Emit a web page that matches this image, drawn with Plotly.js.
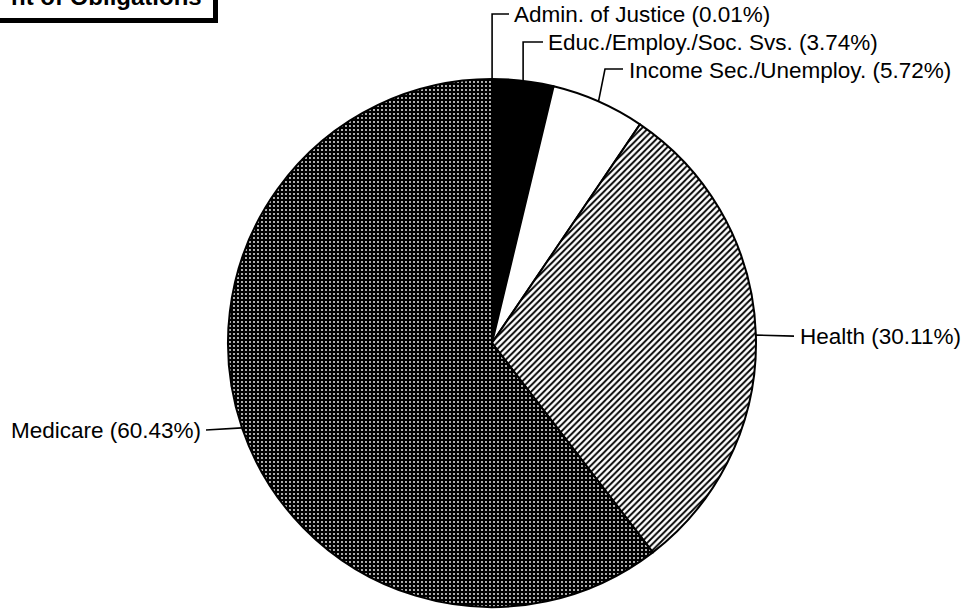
<!DOCTYPE html>
<html>
<head>
<meta charset="utf-8">
<script src="https://cdn.plot.ly/plotly-3.0.1.min.js"></script>
<style>html,body{margin:0;padding:0;background:#fff;}#chart{width:966px;height:611px;}</style>
</head>
<body>
<div id="chart"></div>
<script>
// ---- data ----
const categories = ['Admin. of Justice', 'Educ./Employ./Soc. Svs.', 'Income Sec./Unemploy.', 'Health', 'Medicare'];
const shares = [0.01, 3.74, 5.72, 30.11, 60.43];
const titleText = 'nt of Obligations';

// ---- styles ----
const W = 966, H = 611;
const FONT = 'Liberation Sans, Arial, sans-serif';
const sliceColors = ['#ffffff', '#000000', '#ffffff', '#ffffff', '#000000'];
const patShape = ['', '', '', '/', '.'];
const patFg = ['#000', '#000', '#000', '#000', '#fff'];
const patBg = ['#fff', '#000', '#fff', '#fff', '#000'];
const patSize = [8, 8, 8, 4.5, 4];
const patSolid = [0.3, 0.3, 0.3, 0.42, 0.16];

// pie placement (pixels)
const cx = 492, cy = 343, R = 264;

// label layout (pixels): style of leader and text anchor
const labelLayout = [
  {kind: 'elbow', ly: 14, tx: 512},
  {kind: 'elbow', ly: 42, tx: 546},
  {kind: 'slant', ly: 69, bx: 605, tx: 627},
  {kind: 'horiz', tx: 798},
  {kind: 'left', ly: 430, tx: 203}
];

const px = v => v / W;
const py = v => 1 - v / H;

// anchor points on the pie rim at each slice's mid angle (clockwise from 12 o'clock)
const total = shares.reduce((a, b) => a + b, 0);
let cum = 0;
const anchors = shares.map(s => {
  const mid = (cum + s / 2) / total;
  cum += s;
  const th = 2 * Math.PI * mid;
  return {x: cx + R * Math.sin(th), y: cy - R * Math.cos(th)};
});

const shapes = [];
const annotations = [];
const lineStyle = {color: '#000', width: 1.6};

anchors.forEach((p, i) => {
  const L = labelLayout[i];
  const text = categories[i] + ' (' + shares[i].toFixed(2) + '%)';
  let path, ty, xanchor = 'left';
  if (L.kind === 'elbow') {
    path = `M${px(p.x)},${py(p.y)} L${px(p.x)},${py(L.ly)} L${px(L.tx - 3)},${py(L.ly)}`;
    ty = L.ly + 1;
  } else if (L.kind === 'slant') {
    path = `M${px(p.x)},${py(p.y)} L${px(L.bx)},${py(L.ly)} L${px(L.tx - 4)},${py(L.ly)}`;
    ty = L.ly + 1;
  } else if (L.kind === 'horiz') {
    path = `M${px(p.x)},${py(p.y)} L${px(L.tx - 4)},${py(p.y + 1)}`;
    ty = p.y + 1;
  } else {
    path = `M${px(p.x)},${py(p.y)} L${px(L.tx + 3)},${py(L.ly)}`;
    ty = L.ly;
    xanchor = 'right';
  }
  shapes.push({type: 'path', xref: 'paper', yref: 'paper', path: path, line: lineStyle, layer: 'above'});
  annotations.push({
    xref: 'paper', yref: 'paper', x: px(L.tx), y: py(ty),
    xanchor: xanchor, yanchor: 'middle', showarrow: false, text: text,
    font: {family: FONT, size: 22.5, color: '#000'}
  });
});

// title box (cut off at top-left)
shapes.push({type: 'rect', xref: 'paper', yref: 'paper', x0: px(-10), x1: px(214), y0: py(19), y1: py(-40),
  fillcolor: '#fff', line: {color: '#000', width: 2}, layer: 'above'});
shapes.push({type: 'rect', xref: 'paper', yref: 'paper', x0: px(-10), x1: px(218), y0: py(23), y1: py(19),
  fillcolor: '#000', line: {width: 0}, layer: 'above'});
shapes.push({type: 'rect', xref: 'paper', yref: 'paper', x0: px(214), x1: px(218), y0: py(23), y1: py(-40),
  fillcolor: '#000', line: {width: 0}, layer: 'above'});
annotations.push({
  xref: 'paper', yref: 'paper', x: px(204), y: py(12), xanchor: 'right', yanchor: 'bottom',
  showarrow: false, text: '<b>' + titleText + '</b>',
  font: {family: FONT, size: 24, color: '#000'}
});

const trace = {
  type: 'pie',
  labels: categories,
  values: shares,
  sort: false,
  direction: 'clockwise',
  rotation: 0,
  textinfo: 'none',
  hoverinfo: 'none',
  domain: {x: [px(cx - R), px(cx + R)], y: [py(cy + R), py(cy - R)]},
  marker: {
    colors: sliceColors,
    line: {color: '#000', width: 2},
    pattern: {shape: patShape, fgcolor: patFg, bgcolor: patBg, size: patSize, solidity: patSolid, fillmode: 'replace'}
  }
};

Plotly.newPlot('chart', [trace], {
  width: W, height: H,
  margin: {l: 0, r: 0, t: 0, b: 0},
  paper_bgcolor: '#fff', plot_bgcolor: '#fff',
  showlegend: false,
  shapes: shapes,
  annotations: annotations
}, {staticPlot: true});
</script>
</body>
</html>
